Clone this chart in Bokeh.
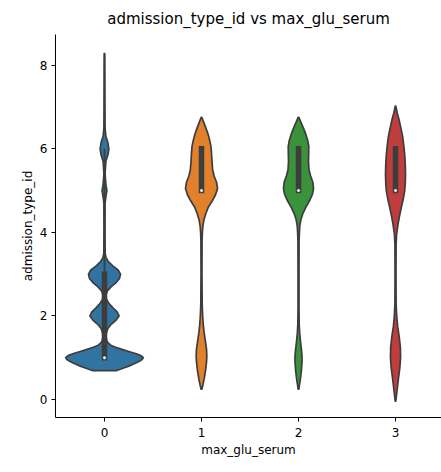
from bokeh.plotting import figure
from bokeh.models import Range1d, FixedTicker
from bokeh.embed import file_html
from bokeh.resources import INLINE

# ---- data ----
categories = ["0", "1", "2", "3"]
colors = ["#3274a1", "#e1812c", "#3a923a", "#c03d3e"]

# violin density profiles: y value -> half width (category units)
blue_y = [0.69, 0.75, 0.80, 0.85, 0.90, 0.95, 1.00, 1.05, 1.10, 1.15, 1.20, 1.25, 1.30, 1.35, 1.40, 1.50,
          1.60, 1.70, 1.80, 1.90, 2.00, 2.10, 2.20, 2.30, 2.40, 2.50, 2.60, 2.70, 2.80, 2.90, 3.00, 3.10,
          3.20, 3.30, 3.40, 3.50, 4.00, 4.70, 4.85, 5.00, 5.15, 5.40, 5.70, 5.85, 6.00, 6.15, 6.30, 6.50,
          7.00, 8.00, 8.28]
blue_w = [0.12, 0.19, 0.25, 0.30, 0.345, 0.385, 0.40, 0.375, 0.32, 0.25, 0.18, 0.115, 0.065, 0.04, 0.025, 0.015,
          0.02, 0.035, 0.07, 0.12, 0.15, 0.13, 0.085, 0.045, 0.02, 0.015, 0.03, 0.07, 0.12, 0.155, 0.165, 0.14,
          0.085, 0.04, 0.015, 0.007, 0.005, 0.006, 0.014, 0.025, 0.014, 0.006, 0.014, 0.035, 0.045, 0.035, 0.014, 0.006,
          0.005, 0.004, 0.003]

orange_y = [0.25, 0.35, 0.50, 0.70, 0.90, 1.05, 1.20, 1.40, 1.60, 1.80, 2.00, 2.30, 3.00, 3.80, 4.00, 4.15,
            4.30, 4.45, 4.60, 4.75, 4.90, 5.05, 5.20, 5.35, 5.50, 5.70, 5.90, 6.05, 6.20, 6.35, 6.50, 6.65, 6.75]
orange_w = [0.005, 0.015, 0.028, 0.042, 0.052, 0.055, 0.052, 0.04, 0.027, 0.018, 0.012, 0.007, 0.005, 0.006, 0.009, 0.014,
            0.025, 0.045, 0.07, 0.11, 0.145, 0.165, 0.155, 0.13, 0.115, 0.108, 0.103, 0.098, 0.085, 0.068, 0.045, 0.02, 0.004]

green_y = [0.25, 0.35, 0.50, 0.70, 0.90, 1.05, 1.20, 1.40, 1.60, 1.80, 2.20, 3.00, 3.80, 4.00, 4.15, 4.30,
           4.45, 4.60, 4.75, 4.90, 5.05, 5.20, 5.35, 5.50, 5.70, 5.90, 6.05, 6.20, 6.35, 6.50, 6.65, 6.75]
green_w = [0.004, 0.01, 0.02, 0.03, 0.036, 0.036, 0.03, 0.02, 0.012, 0.007, 0.005, 0.005, 0.006, 0.009, 0.013, 0.024,
           0.045, 0.075, 0.112, 0.142, 0.155, 0.148, 0.125, 0.108, 0.103, 0.105, 0.106, 0.095, 0.075, 0.05, 0.022, 0.004]

red_y = [-0.04, 0.10, 0.30, 0.50, 0.75, 1.00, 1.25, 1.50, 1.75, 2.00, 2.30, 3.00, 3.70, 3.95, 4.20, 4.40,
         4.60, 4.80, 5.00, 5.20, 5.40, 5.60, 5.85, 6.10, 6.30, 6.50, 6.70, 6.85, 7.02]
red_w = [0.003, 0.01, 0.02, 0.03, 0.044, 0.052, 0.05, 0.038, 0.022, 0.012, 0.006, 0.005, 0.006, 0.011, 0.026, 0.042,
         0.06, 0.08, 0.095, 0.101, 0.103, 0.101, 0.095, 0.084, 0.073, 0.055, 0.036, 0.018, 0.003]

# inner box statistics
q1 = [1, 5, 5, 5]
q3 = [3, 6, 6, 6]
medians = [1, 5, 5, 5]
whisk_lo = [1, 5, 5, 5]
whisk_hi = [6, 6, 6, 6]

y_ticks = [0, 2, 4, 6, 8]

# ---- figure ----
GRAY = "#3d3d3d"
FONT = "DejaVu Sans"

p = figure(width=441, height=472, output_backend="svg", toolbar_location=None,
           x_range=Range1d(-0.505, 3.474), y_range=Range1d(-0.43, 8.735),
           min_border_left=55, min_border_right=0, min_border_top=33, min_border_bottom=55,
           title="admission_type_id vs max_glu_serum")
p.outline_line_color = None
p.xgrid.visible = False
p.ygrid.visible = False
p.background_fill_color = "white"
p.border_fill_color = "white"

p.title.align = "center"
p.title.text_font = FONT
p.title.text_font_size = "15px"
p.title.text_font_style = "normal"
p.title.text_color = "#000000"
p.title.standoff = 6
p.title.padding = 4

for ax in (p.xaxis[0], p.yaxis[0]):
    ax.axis_line_color = "#000000"
    ax.axis_line_width = 1
    ax.major_tick_line_color = "#000000"
    ax.major_tick_out = 4
    ax.major_tick_in = 0
    ax.minor_tick_line_color = None
    ax.major_label_text_font = FONT
    ax.major_label_text_font_size = "12px"
    ax.major_label_text_color = "#000000"
    ax.axis_label_text_font = FONT
    ax.axis_label_text_font_size = "12px"
    ax.axis_label_text_font_style = "normal"
    ax.axis_label_text_color = "#000000"

p.xaxis.major_label_standoff = 6
p.xaxis.axis_label_standoff = 3
p.yaxis.major_label_standoff = 4
p.yaxis.axis_label_standoff = 2

p.xaxis.ticker = FixedTicker(ticks=list(range(len(categories))))
p.xaxis.major_label_overrides = {i: c for i, c in enumerate(categories)}
p.xaxis.axis_label = "max_glu_serum"
p.yaxis.ticker = FixedTicker(ticks=y_ticks)
p.yaxis.axis_label = "admission_type_id"

profiles = [(blue_y, blue_w), (orange_y, orange_w), (green_y, green_w), (red_y, red_w)]
for i, (ys, ws) in enumerate(profiles):
    xs = [i + w for w in ws] + [i - w for w in ws[::-1]]
    yy = list(ys) + list(ys[::-1])
    p.patch(xs, yy, fill_color=colors[i], line_color=GRAY, line_width=1.7, line_join="round")

centers = list(range(len(categories)))
p.segment(x0=centers, y0=whisk_lo, x1=centers, y1=whisk_hi, line_color=GRAY, line_width=1.8)
p.segment(x0=centers, y0=q1, x1=centers, y1=q3, line_color=GRAY, line_width=5.5, line_cap="square")
p.scatter(x=centers, y=medians, size=3.5, fill_color="white", line_color=GRAY, line_width=0.6)

open("out.html", "w").write(file_html(p, INLINE))
